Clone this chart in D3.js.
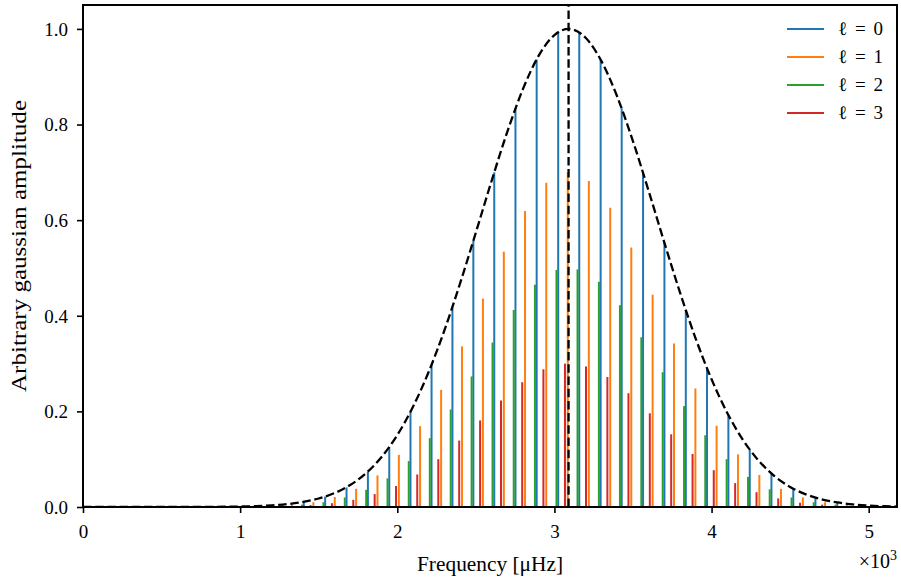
<!DOCTYPE html>
<html lang="en">
    <head>
        <meta charset="utf-8">
        <title>Gaussian mode amplitudes</title>
        <script src="https://d3js.org/d3.v7.min.js"></script>
        <style type="text/css">
            body{
                margin: 0;
                background: #fff;
            }
            svg{
                display: block;
            }
            text{
                font-family: "Liberation Serif", "DejaVu Serif", serif;
                fill: #000;
            }
        </style>
    </head>
    <body>
        <svg width="901" height="579"></svg>
        <script type="text/javascript">

        const w = 901;
        const h = 579;

        //DATA (frequencies in 10^3 microHz, amplitudes arbitrary)
        const degreeLabels = ["\u2113 = 0", "\u2113 = 1", "\u2113 = 2", "\u2113 = 3"];
        const degreeColors = ["#1f77b4", "#ff7f0e", "#2ca02c", "#d62728"];

        const freqL0 = [0.997, 1.133, 1.269, 1.405, 1.541, 1.677, 1.813, 1.949, 2.084, 2.218, 2.351, 2.484, 2.617, 2.752, 2.887, 3.024,
                        3.158, 3.294, 3.428, 3.564, 3.700, 3.836, 3.971, 4.107, 4.243, 4.381, 4.520, 4.661, 4.800, 4.940, 5.080];
        const ampL0  = [0.001, 0.002, 0.005, 0.011, 0.022, 0.041, 0.074, 0.125, 0.199, 0.298, 0.419, 0.557, 0.700, 0.834, 0.936, 0.993,
                        0.993, 0.936, 0.834, 0.699, 0.553, 0.412, 0.290, 0.192, 0.120, 0.070, 0.038, 0.020, 0.009, 0.004, 0.002];

        const freqL1 = [1.058, 1.194, 1.330, 1.466, 1.602, 1.738, 1.874, 2.010, 2.145, 2.279, 2.412, 2.545, 2.678, 2.813, 2.948, 3.085,
                        3.219, 3.355, 3.489, 3.625, 3.761, 3.897, 4.032, 4.168, 4.304, 4.442, 4.581, 4.722, 4.861, 5.001, 5.141];
        const ampL1  = [0.001, 0.002, 0.005, 0.010, 0.021, 0.038, 0.066, 0.109, 0.169, 0.245, 0.336, 0.436, 0.534, 0.619, 0.678, 0.700,
                        0.682, 0.626, 0.543, 0.444, 0.342, 0.248, 0.170, 0.110, 0.067, 0.038, 0.020, 0.010, 0.005, 0.002, 0.001];

        const freqL2 = [0.986, 1.122, 1.258, 1.394, 1.530, 1.666, 1.802, 1.938, 2.073, 2.207, 2.340, 2.473, 2.606, 2.741, 2.876, 3.013,
                        3.147, 3.283, 3.417, 3.553, 3.689, 3.825, 3.960, 4.096, 4.232, 4.370, 4.509, 4.650, 4.789, 4.929, 5.069];
        const ampL2  = [0.000, 0.001, 0.002, 0.005, 0.010, 0.020, 0.036, 0.060, 0.096, 0.144, 0.204, 0.273, 0.344, 0.412, 0.465, 0.496,
                        0.497, 0.471, 0.422, 0.355, 0.282, 0.211, 0.150, 0.100, 0.063, 0.037, 0.020, 0.010, 0.005, 0.002, 0.001];

        const freqL3 = [1.040, 1.176, 1.312, 1.448, 1.584, 1.720, 1.856, 1.992, 2.127, 2.261, 2.394, 2.527, 2.660, 2.795, 2.930, 3.067,
                        3.201, 3.337, 3.471, 3.607, 3.743, 3.879, 4.014, 4.150, 4.286, 4.424, 4.563, 4.704, 4.843, 4.983, 5.123];
        const ampL3  = [0.000, 0.001, 0.002, 0.004, 0.008, 0.015, 0.027, 0.044, 0.068, 0.100, 0.139, 0.181, 0.223, 0.261, 0.288, 0.300,
                        0.294, 0.272, 0.238, 0.196, 0.152, 0.111, 0.077, 0.050, 0.031, 0.018, 0.009, 0.005, 0.002, 0.001, 0.000];

        //ENVELOPE (dashed)
        const envFreq = [0.0, 0.5, 0.8, 0.9, 1.0, 1.1, 1.2, 1.3, 1.4, 1.5, 1.6, 1.7, 1.8, 1.9, 2.0, 2.1, 2.2, 2.3, 2.4, 2.5, 2.6, 2.7,
                         2.8, 2.9, 3.0, 3.09, 3.1, 3.2, 3.3, 3.4, 3.5, 3.6, 3.7, 3.8, 3.9, 4.0, 4.1, 4.2, 4.3, 4.4, 4.5, 4.6, 4.7,
                         4.8, 4.9, 5.0, 5.1, 5.2];
        const envAmp  = [0.0, 0.0, 0.0002, 0.0005, 0.001, 0.0018, 0.0034, 0.006, 0.0105, 0.0178, 0.029, 0.0459, 0.0704, 0.1046,
                         0.1505, 0.2096, 0.2828, 0.3697, 0.4681, 0.5741, 0.6819, 0.7847, 0.8745, 0.9441, 0.9872, 1.0, 0.9998,
                         0.9809, 0.9321, 0.858, 0.7649, 0.6606, 0.5525, 0.4477, 0.3513, 0.2671, 0.1967, 0.1402, 0.0969, 0.0648,
                         0.042, 0.0264, 0.016, 0.0095, 0.0054, 0.003, 0.0016, 0.0008];
        const numax = 3.09;

        const xTicks = [0, 1, 2, 3, 4, 5];
        const yTicks = [0.0, 0.2, 0.4, 0.6, 0.8, 1.0];

        const modes = [
            {l: 0, freq: freqL0, amp: ampL0},
            {l: 1, freq: freqL1, amp: ampL1},
            {l: 2, freq: freqL2, amp: ampL2},
            {l: 3, freq: freqL3, amp: ampL3}
        ];

        //LAYOUT
        const margin = {top: 5, right: 4, bottom: 72, left: 83};
        const iw = w - margin.left - margin.right;
        const ih = h - margin.top - margin.bottom;

        //SCALES
        const x = d3.scaleLinear().domain([0, 5.18]).range([0, iw]);
        const y = d3.scaleLinear().domain([0, 1.05]).range([ih, 0]);

        const svg = d3.select("svg");
        svg.append("defs").append("clipPath").attr("id", "clip")
           .append("rect").attr("width", iw).attr("height", ih);

        const g = svg.append("g").attr("transform", `translate(${margin.left},${margin.top})`);
        const plot = g.append("g").attr("clip-path", "url(#clip)");

        //MODE LINES
        modes.forEach(m => {
            plot.append("g")
                .selectAll("line")
                .data(d3.range(m.freq.length))
                .join("line")
                .attr("x1", i => x(m.freq[i]))
                .attr("x2", i => x(m.freq[i]))
                .attr("y1", y(0))
                .attr("y2", i => y(m.amp[i]))
                .attr("stroke", degreeColors[m.l])
                .attr("stroke-width", 2);
        });

        //GAUSSIAN ENVELOPE
        const env = d3.line()
                      .x((d, i) => x(envFreq[i]))
                      .y(d => y(d))
                      .curve(d3.curveMonotoneX);

        plot.append("path")
            .datum(envAmp)
            .attr("d", env)
            .attr("fill", "none")
            .attr("stroke", "#000")
            .attr("stroke-width", 2.3)
            .attr("stroke-dasharray", "8.5,3.7");

        //NUMAX LINE
        plot.append("line")
            .attr("x1", x(numax)).attr("x2", x(numax))
            .attr("y1", y(0)).attr("y2", 0)
            .attr("stroke", "#000")
            .attr("stroke-width", 2.3)
            .attr("stroke-dasharray", "8.5,3.7");

        //AXES
        const xAxis = g.append("g")
                       .attr("transform", `translate(0,${ih})`)
                       .call(d3.axisBottom(x).tickValues(xTicks).tickFormat(d3.format("d")).tickSize(6).tickSizeOuter(0));
        const yAxis = g.append("g")
                       .call(d3.axisLeft(y).tickValues(yTicks).tickFormat(d3.format(".1f")).tickSize(6).tickSizeOuter(0));

        [xAxis, yAxis].forEach(a => {
            a.select(".domain").remove();
            a.selectAll(".tick line").attr("stroke", "#000").attr("stroke-width", 1.6);
            a.selectAll(".tick text").attr("font-size", 19).attr("font-family", "Liberation Serif");
        });
        xAxis.selectAll(".tick text").attr("dy", "0.71em").attr("y", 18);
        yAxis.selectAll(".tick text").attr("x", -15).attr("dy", "0.34em");

        //FRAME
        g.append("rect")
         .attr("width", iw).attr("height", ih)
         .attr("fill", "none")
         .attr("stroke", "#000")
         .attr("stroke-width", 2);

        //LABELS
        g.append("text")
         .attr("x", iw / 2).attr("y", ih + 64)
         .attr("text-anchor", "middle")
         .attr("font-size", 20)
         .attr("textLength", 146)
         .attr("lengthAdjust", "spacingAndGlyphs")
         .text("Frequency [\u03bcHz]");

        const xm = g.append("text")
         .attr("x", iw).attr("y", ih + 61)
         .attr("text-anchor", "end")
         .attr("font-size", 20);
        xm.append("tspan").text("\u00d710");
        xm.append("tspan").attr("dy", -8).attr("font-size", 14).text("3");

        svg.append("text")
           .attr("transform", `translate(26,${margin.top + ih / 2 - 10}) rotate(-90)`)
           .attr("text-anchor", "middle")
           .attr("font-size", 20)
           .attr("textLength", 292)
           .attr("lengthAdjust", "spacingAndGlyphs")
           .text("Arbitrary gaussian amplitude");

        //LEGEND
        const legend = g.append("g").attr("transform", `translate(${iw - 110},${24})`);
        const item = legend.selectAll("g")
                           .data(degreeLabels)
                           .join("g")
                           .attr("transform", (d, i) => `translate(0,${i * 28})`);
        item.append("line")
            .attr("x1", 0).attr("x2", 37)
            .attr("stroke", (d, i) => degreeColors[i])
            .attr("stroke-width", 2);
        item.append("text")
            .attr("x", 51).attr("dy", "0.34em")
            .attr("font-size", 19)
            .attr("textLength", 45)
            .attr("lengthAdjust", "spacing")
            .text(d => d);

        </script>
    </body>
</html>
